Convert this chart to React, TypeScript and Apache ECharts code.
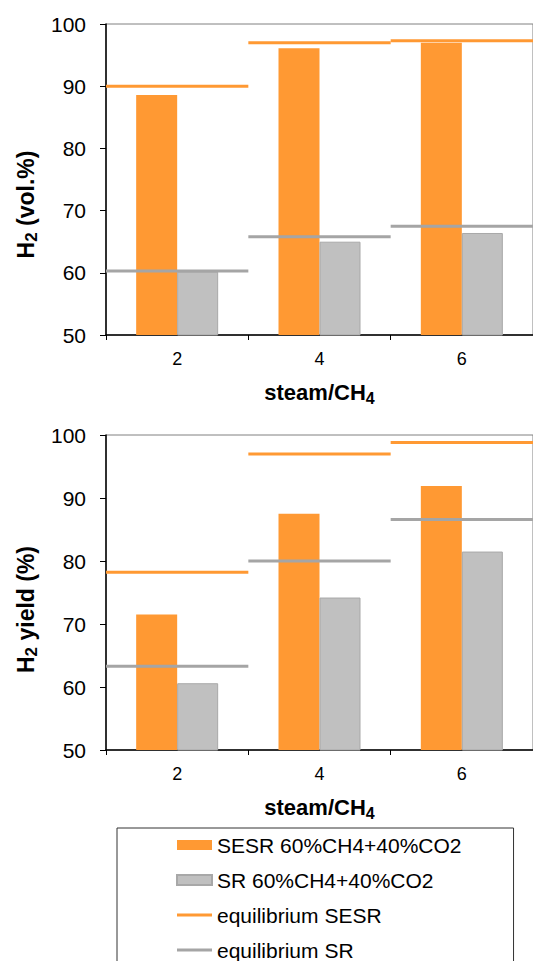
import React, { useEffect, useRef } from "react";
import * as echarts from "echarts";

const categories = ["2", "4", "6"];
const volSESR = [88.6, 96.1, 97.0];
const volSR = [60.2, 65.0, 66.4];
const volEqSESR = [90.0, 97.0, 97.3];
const volEqSR = [60.3, 65.8, 67.5];
const yieldSESR = [71.5, 87.5, 91.9];
const yieldSR = [60.6, 74.2, 81.5];
const yieldEqSESR = [78.2, 97.0, 98.8];
const yieldEqSR = [63.3, 80.0, 86.6];
const yMin = 50;
const yMax = 100;
const yStep = 10;

const names = {
  sesr: "SESR 60%CH4+40%CO2",
  sr: "SR 60%CH4+40%CO2",
  eqSesr: "equilibrium SESR",
  eqSr: "equilibrium SR",
};

const FONT = "Liberation Sans, Arial, sans-serif";
const ORANGE = "#FF9933";
const GRAY = "#C0C0C0";
const GRAY_LINE = "#A5A5A5";

const xTitleRich = {
  b: { fontSize: 22, fontWeight: "bold", fontFamily: FONT, color: "#000", lineHeight: 26 },
  s: { fontSize: 16, fontWeight: "bold", fontFamily: FONT, color: "#000", lineHeight: 16, padding: [12, 0, 0, 0] },
};
const yTitleRich = {
  b: { fontSize: 23, fontWeight: "bold", fontFamily: FONT, color: "#000", lineHeight: 27 },
  s: { fontSize: 17, fontWeight: "bold", fontFamily: FONT, color: "#000", lineHeight: 17, padding: [12, 0, 0, 0] },
};

function eqSeries(name: string, values: number[], color: string, idx: number) {
  return {
    name,
    type: "custom",
    xAxisIndex: idx,
    yAxisIndex: idx,
    itemStyle: { color },
    encode: { x: 0, y: 1 },
    data: values.map((v, i) => [i, v]),
    z: 5,
    renderItem: (params: any, api: any) => {
      const c = api.coord([api.value(0), api.value(1)]);
      const w = api.size([1, 0])[0];
      return {
        type: "line",
        shape: { x1: c[0] - w / 2, y1: c[1], x2: c[0] + w / 2, y2: c[1] },
        style: { stroke: color, lineWidth: 3 },
      };
    },
  };
}

function barSeries(name: string, values: number[], color: string, idx: number, border?: string) {
  return {
    name,
    type: "bar",
    xAxisIndex: idx,
    yAxisIndex: idx,
    barWidth: 41,
    barGap: "0%",
    itemStyle: border ? { color, borderColor: border, borderWidth: 1 } : { color },
    data: values,
  };
}

function xAxisCfg(idx: number) {
  return {
    type: "category",
    gridIndex: idx,
    data: categories,
    axisLine: { show: true, lineStyle: { color: "#000", width: 1.5 } },
    axisTick: { show: true, length: 5, alignWithLabel: false, lineStyle: { color: "#000" } },
    axisLabel: { fontSize: 18, color: "#000", fontFamily: FONT, margin: 15 },
    name: "{b|steam/CH}{s|4}",
    nameLocation: "middle",
    nameGap: 44,
    nameTextStyle: { rich: xTitleRich },
  };
}

function yAxisCfg(idx: number, title: string, shift: number) {
  return {
    type: "value",
    gridIndex: idx,
    min: yMin,
    max: yMax,
    interval: yStep,
    axisLine: { show: true, lineStyle: { color: "#000", width: 1.5 } },
    axisTick: { show: true, length: 6, lineStyle: { color: "#000" } },
    splitLine: { show: false },
    axisLabel: { fontSize: 21, color: "#000", fontFamily: FONT, margin: 20 },
    name: title,
    nameLocation: "middle",
    nameRotate: 90,
    nameGap: 65,
    nameTextStyle: { rich: yTitleRich, padding: [0, shift, 0, 0] },
  };
}

const lineIcon = "path://M0,0M0,3.5L35,3.5L35,6.5L0,6.5ZM35,10";

export default function App() {
  const ref = useRef<HTMLDivElement>(null);
  useEffect(() => {
    if (!ref.current) return;
    const chart = echarts.init(ref.current, null, { renderer: "svg" });
    chart.setOption({
      animation: false,
      backgroundColor: "#fff",
      grid: [
        { left: 106, top: 24, width: 436, height: 311, show: true, borderColor: "#808080", borderWidth: 1, backgroundColor: "transparent" },
        { left: 106, top: 435, width: 436, height: 315, show: true, borderColor: "#808080", borderWidth: 1, backgroundColor: "transparent" },
      ],
      xAxis: [xAxisCfg(0), xAxisCfg(1)],
      yAxis: [
        yAxisCfg(0, "{b|H}{s|2}{b| (vol.%)}", 50),
        yAxisCfg(1, "{b|H}{s|2}{b| yield (%)}", 34),
      ],
      legend: {
        orient: "vertical",
        left: 117,
        top: 828,
        width: 396,
        height: 400,
        padding: [5, 52, 200, 59],
        borderColor: "#333",
        borderWidth: 1,
        itemWidth: 35,
        itemHeight: 10,
        itemGap: 11,
        selectedMode: false,
        textStyle: { fontSize: 21, fontFamily: FONT, color: "#000", lineHeight: 24 },
        data: [
          { name: names.sesr, icon: "rect" },
          { name: names.sr, icon: "rect" },
          { name: names.eqSesr, icon: lineIcon },
          { name: names.eqSr, icon: lineIcon },
        ],
      },
      series: [
        barSeries(names.sesr, volSESR, ORANGE, 0),
        barSeries(names.sr, volSR, GRAY, 0, "#A8A8A8"),
        eqSeries(names.eqSesr, volEqSESR, ORANGE, 0),
        eqSeries(names.eqSr, volEqSR, GRAY_LINE, 0),
        barSeries(names.sesr, yieldSESR, ORANGE, 1),
        barSeries(names.sr, yieldSR, GRAY, 1, "#A8A8A8"),
        eqSeries(names.eqSesr, yieldEqSESR, ORANGE, 1),
        eqSeries(names.eqSr, yieldEqSR, GRAY_LINE, 1),
      ],
    });
    return () => chart.dispose();
  }, []);
  return <div ref={ref} style={{ position: "absolute", left: 0, top: 0, width: 533, height: 961 }} />;
}
